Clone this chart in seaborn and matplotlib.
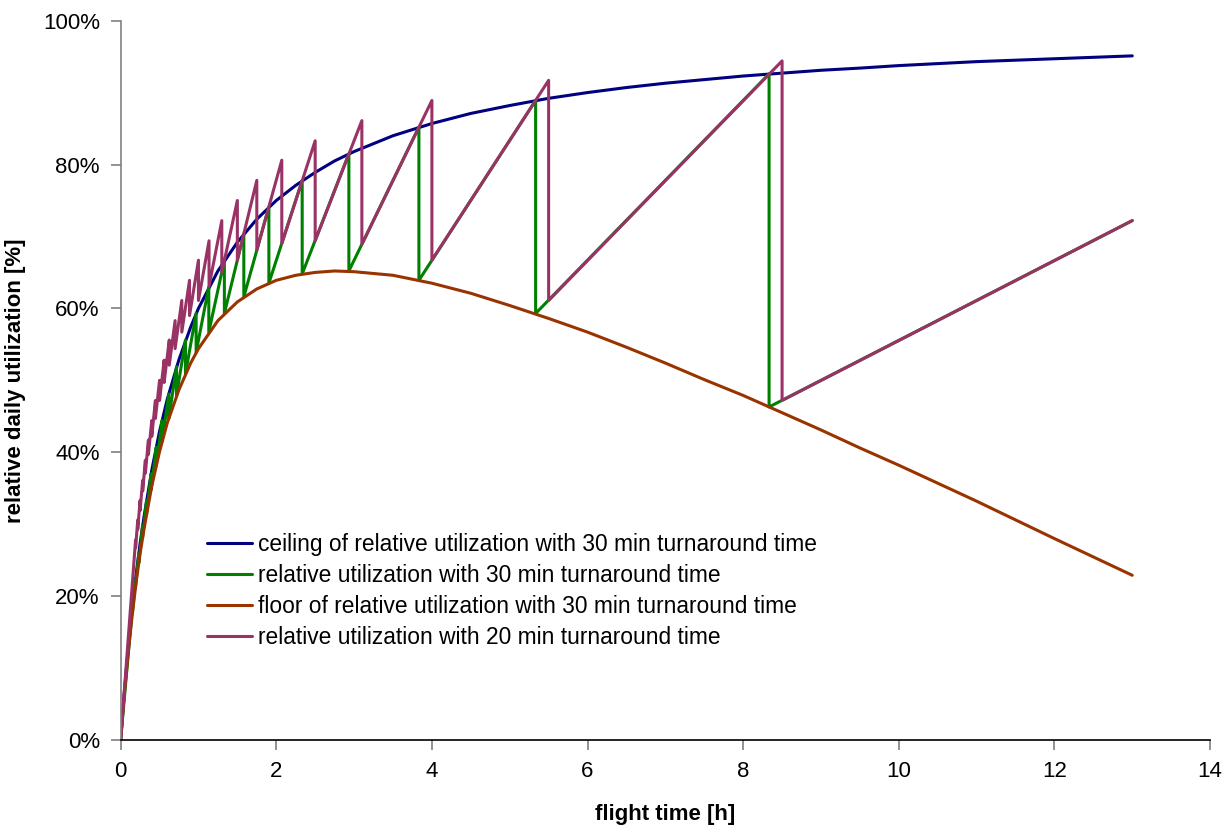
import pandas as pd
import matplotlib
matplotlib.use("Agg")
import matplotlib.pyplot as plt
import seaborn as sns
from matplotlib.ticker import PercentFormatter

sns.set_theme(style="white")
plt.rcParams["font.family"] = ["Liberation Sans", "DejaVu Sans"]
plt.rcParams["text.color"] = "black"
plt.rcParams["axes.labelcolor"] = "black"

# ceiling / floor of relative utilization, 30 min turnaround
curve_t = [0, 0.025, 0.05, 0.1, 0.15, 0.2, 0.25, 0.3, 0.4, 0.5, 0.6, 0.75, 0.9, 1.0,
           1.25, 1.5, 1.75, 2.0, 2.25, 2.5, 2.75, 3.0, 3.5, 4.0, 4.5, 5.0, 5.5, 6.0,
           6.5, 7.0, 7.5, 8.0, 8.5, 9.0, 9.5, 10, 11, 12, 13]
ceiling_y = [0, 0.036, 0.070, 0.130, 0.184, 0.231, 0.273, 0.310, 0.375, 0.429, 0.474,
             0.529, 0.574, 0.600, 0.652, 0.692, 0.724, 0.750, 0.771, 0.789, 0.805,
             0.818, 0.840, 0.857, 0.871, 0.882, 0.892, 0.900, 0.907, 0.913, 0.918,
             0.923, 0.927, 0.931, 0.934, 0.9375, 0.943, 0.947, 0.951]
floor_y = [0, 0.035, 0.067, 0.124, 0.175, 0.220, 0.259, 0.293, 0.353, 0.401, 0.441,
           0.487, 0.524, 0.544, 0.583, 0.609, 0.627, 0.639, 0.646, 0.650, 0.652,
           0.651, 0.646, 0.635, 0.621, 0.604, 0.586, 0.567, 0.546, 0.524, 0.501,
           0.479, 0.455, 0.431, 0.406, 0.382, 0.332, 0.280, 0.229]

# sawtooth, 30 min turnaround: jump positions with top / bottom values
g30_jump_t = [0.152, 0.190, 0.233, 0.281, 0.333, 0.392, 0.458, 0.533, 0.619, 0.718,
              0.833, 0.970, 1.133, 1.333, 1.583, 1.905, 2.333, 2.933, 3.833, 5.333, 8.333]
g30_top = [0.186, 0.222, 0.259, 0.297, 0.333, 0.370, 0.407, 0.444, 0.481, 0.519,
           0.556, 0.593, 0.630, 0.667, 0.704, 0.741, 0.778, 0.815, 0.852, 0.889, 0.926]
g30_bottom = [0.177, 0.211, 0.246, 0.281, 0.315, 0.348, 0.382, 0.415, 0.447, 0.479,
              0.509, 0.539, 0.567, 0.593, 0.616, 0.635, 0.648, 0.652, 0.639, 0.593, 0.463]

# sawtooth, 20 min turnaround
p20_jump_t = [0.192, 0.220, 0.250, 0.283, 0.318, 0.357, 0.400, 0.447, 0.500, 0.559,
              0.625, 0.700, 0.786, 0.885, 1.000, 1.136, 1.300, 1.500, 1.750, 2.071,
              2.500, 3.100, 4.000, 5.500, 8.500]
p20_top = [0.278, 0.306, 0.333, 0.361, 0.389, 0.417, 0.444, 0.472, 0.500, 0.528,
           0.556, 0.583, 0.611, 0.639, 0.667, 0.694, 0.722, 0.750, 0.778, 0.806,
           0.833, 0.861, 0.889, 0.917, 0.944]
p20_bottom = [0.267, 0.293, 0.319, 0.346, 0.371, 0.397, 0.422, 0.447, 0.472, 0.497,
              0.521, 0.544, 0.567, 0.590, 0.611, 0.631, 0.650, 0.667, 0.681, 0.690,
              0.694, 0.689, 0.667, 0.611, 0.472]

end_t = 13
end_y = 0.722

labels = ["ceiling of relative utilization with 30 min turnaround time",
          "relative utilization with 30 min turnaround time",
          "floor of relative utilization with 30 min turnaround time",
          "relative utilization with 20 min turnaround time"]
colors = ["#000080", "#008000", "#993300", "#993366"]


def sawtooth(jump_t, top, bottom):
    xs, ys = [0], [0]
    for t, a, b in zip(jump_t, top, bottom):
        xs += [t, t]
        ys += [a, b]
    xs.append(end_t)
    ys.append(end_y)
    return pd.DataFrame({"t": xs, "u": ys})


df_ceil = pd.DataFrame({"t": curve_t, "u": ceiling_y})
df_floor = pd.DataFrame({"t": curve_t, "u": floor_y})
df_g30 = sawtooth(g30_jump_t, g30_top, g30_bottom)
df_p20 = sawtooth(p20_jump_t, p20_top, p20_bottom)

fig, ax = plt.subplots(figsize=(12.31, 8.25), dpi=100)
fig.subplots_adjust(left=0.098, right=0.983, top=0.975, bottom=0.103)

for df, lab, col in zip([df_ceil, df_g30, df_floor, df_p20], labels, colors):
    sns.lineplot(data=df, x="t", y="u", ax=ax, sort=False, estimator=None,
                 color=col, linewidth=2.2, label=lab)

ax.set_xlim(0, 14)
ax.set_ylim(0, 1)
ax.set_xticks(range(0, 15, 2))
ax.set_yticks([0, 0.2, 0.4, 0.6, 0.8, 1.0])
ax.yaxis.set_major_formatter(PercentFormatter(1.0, decimals=0))
ax.tick_params(axis="both", labelsize=16, length=7, width=1.2, color="#808080",
               labelcolor="black", direction="out", left=True, bottom=True, pad=8)

for side in ["top", "right"]:
    ax.spines[side].set_visible(False)
ax.spines["left"].set_color("#808080")
ax.spines["left"].set_linewidth(1.2)
ax.spines["bottom"].set_color("black")
ax.spines["bottom"].set_linewidth(1.2)

ax.set_xlabel("flight time [h]", fontsize=16, fontweight="bold", labelpad=16)
ax.set_ylabel("relative daily utilization [%]", fontsize=16, fontweight="bold", labelpad=12)

ax.legend(loc="upper left", bbox_to_anchor=(0.0705, 0.301), frameon=False, fontsize=16.4,
          handlelength=2.0, handletextpad=0.25, labelspacing=0.36, borderaxespad=0)

fig.savefig("out.png", dpi=100, facecolor="white")
